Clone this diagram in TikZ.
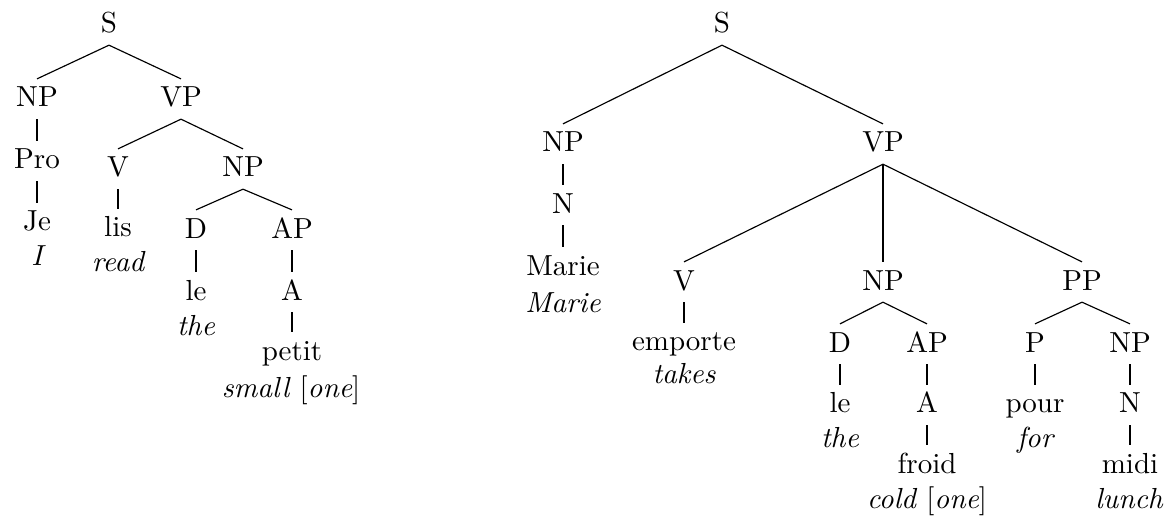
\documentclass[tikz,border=0pt]{standalone}
\begin{document}
\begin{tikzpicture}[x=0.3448pt,y=-0.3448pt,
	cat/.style={anchor=base,text height=9.5pt,text depth=4pt,inner ysep=0pt,inner xsep=1pt},
	gloss/.style={anchor=base,inner sep=0pt,font=\itshape}]
	\useasboundingbox (0,0) rectangle (1169,518);
	% Je lis le petit
		\node[cat] (s1) at (109,33) {S};
		\node[cat] (np1) at (37,107) {NP};
		\node[cat] (vp1) at (181,107) {VP};
		\node[cat] (pro1) at (37,169) {Pro};
		\node[cat] (je) at (37,231) {Je};
		\node[gloss] (jeg) at (37,265) {I};
		\node[cat] (v1) at (118,177) {V};
		\node[cat] (np2) at (243,177) {NP};
		\node[cat] (lis) at (118,237) {lis};
		\node[gloss] (lisg) at (118,272) {read};
		\node[cat] (d1) at (196,238) {D};
		\node[cat] (ap1) at (292,238) {AP};
		\node[cat] (le1) at (196,300) {le};
		\node[gloss] (le1g) at (196,335) {the};
		\node[cat] (a1) at (292,300) {A};
		\node[cat] (petit) at (292,360) {petit};
		\node[gloss] (petitg) at (291,397) {small \upshape[\itshape one\upshape]};
		\draw (s1.south) -- (np1.north);
		\draw (s1.south) -- (vp1.north);
		\draw (np1.south) -- (pro1.north);
		\draw (pro1.south) -- (je.north);
		\draw (vp1.south) -- (v1.north);
		\draw (vp1.south) -- (np2.north);
		\draw (v1.south) -- (lis.north);
		\draw (np2.south) -- (d1.north);
		\draw (np2.south) -- (ap1.north);
		\draw (d1.south) -- (le1.north);
		\draw (ap1.south) -- (a1.north);
		\draw (a1.south) -- (petit.north);
	% Marie emporte le froid pour midi
		\node[cat] (s2) at (722,33) {S};
		\node[cat] (np3) at (563,152) {NP};
		\node[cat] (vp2) at (883,152) {VP};
		\node[cat] (n1) at (563,213) {N};
		\node[cat] (marie) at (563,275) {Marie};
		\node[gloss] (marieg) at (563,312) {Marie};
		\node[cat] (v2) at (684,290) {V};
		\node[cat] (np4) at (883,290) {NP};
		\node[cat] (pp) at (1082,290) {PP};
		\node[cat] (emporte) at (684,351) {emporte};
		\node[gloss] (emporteg) at (684,384) {takes};
		\node[cat] (d2) at (840,352) {D};
		\node[cat] (ap2) at (927,352) {AP};
		\node[cat] (le2) at (840,413) {le};
		\node[gloss] (le2g) at (840,447) {the};
		\node[cat] (a2) at (927,413) {A};
		\node[cat] (froid) at (927,473) {froid};
		\node[gloss] (froidg) at (927,508) {cold \upshape[\itshape one\upshape]};
		\node[cat] (p1) at (1035,352) {P};
		\node[cat] (np5) at (1130,352) {NP};
		\node[cat] (pour) at (1035,413) {pour};
		\node[gloss] (pourg) at (1035,447) {for};
		\node[cat] (n2) at (1130,413) {N};
		\node[cat] (midi) at (1130,473) {midi};
		\node[gloss] (midig) at (1129,508) {lunch};
		\draw (s2.south) -- (np3.north);
		\draw (s2.south) -- (vp2.north);
		\draw (np3.south) -- (n1.north);
		\draw (n1.south) -- (marie.north);
		\draw (vp2.south) -- (v2.north);
		\draw (vp2.south) -- (np4.north);
		\draw (vp2.south) -- (pp.north);
		\draw (v2.south) -- (emporte.north);
		\draw (np4.south) -- (d2.north);
		\draw (np4.south) -- (ap2.north);
		\draw (d2.south) -- (le2.north);
		\draw (ap2.south) -- (a2.north);
		\draw (a2.south) -- (froid.north);
		\draw (pp.south) -- (p1.north);
		\draw (pp.south) -- (np5.north);
		\draw (p1.south) -- (pour.north);
		\draw (np5.south) -- (n2.north);
		\draw (n2.south) -- (midi.north);
	\end{tikzpicture}
\end{document}
